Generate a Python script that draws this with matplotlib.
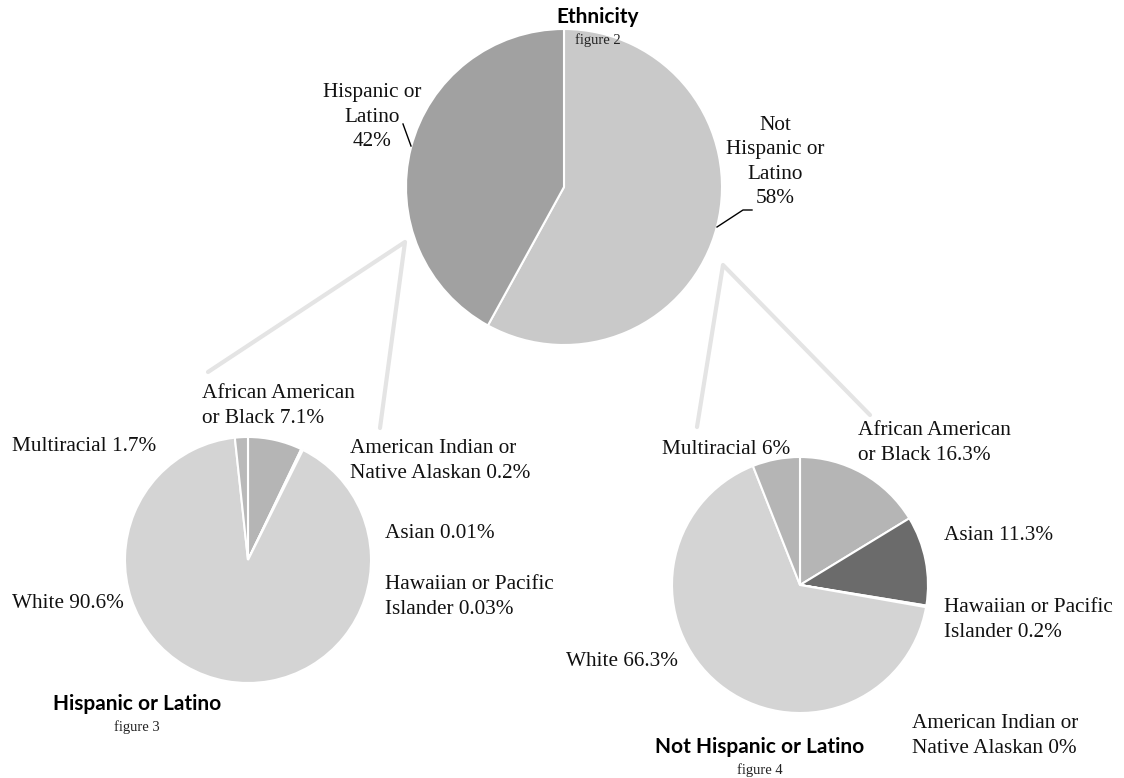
import matplotlib
matplotlib.use("Agg")
import matplotlib.pyplot as plt

# ---- data ----
eth_labels = ["Not Hispanic or Latino", "Hispanic or Latino"]
eth_values = [58, 42]
eth_colors = ["#c9c9c9", "#a1a1a1"]

hisp_labels = ["African American or Black", "American Indian or Native Alaskan", "Asian",
               "Hawaiian or Pacific Islander", "White", "Multiracial"]
hisp_values = [7.1, 0.2, 0.01, 0.03, 90.6, 1.7]
hisp_colors = ["#b5b5b5", "#e6e6e6", "#bdbdbd", "#a0a0a0", "#d4d4d4", "#b9b9b9"]

nonh_labels = ["African American or Black", "Asian", "Hawaiian or Pacific Islander",
               "American Indian or Native Alaskan", "White", "Multiracial"]
nonh_values = [16.3, 11.3, 0.2, 0.0, 66.3, 6.0]
nonh_colors = ["#b5b5b5", "#6b6b6b", "#9a9a9a", "#888888", "#d4d4d4", "#b5b5b5"]

W, H = 1124, 778
fig = plt.figure(figsize=(W / 100, H / 100), dpi=100)
ax = fig.add_axes([0, 0, 1, 1])

SERIF = ["Liberation Serif", "DejaVu Serif"]
SANS = ["Lato", "Open Sans", "DejaVu Sans"]
FS = 15.3

def draw_pie(values, colors, center, radius):
    ax.pie(values, colors=colors, center=center, radius=radius,
           startangle=-90, counterclock=True,
           wedgeprops=dict(edgecolor="white", linewidth=1.5))

draw_pie(eth_values, eth_colors, (564, 187), 158)
draw_pie(hisp_values, hisp_colors, (248, 560), 123)
draw_pie(nonh_values, nonh_colors, (800, 585), 128)

ax.set_xlim(0, W)
ax.set_ylim(H, 0)
ax.set_aspect("auto")
ax.axis("off")

# connector lines (zoom)
conn = dict(color="#e4e4e4", lw=3.0, solid_capstyle="round", solid_joinstyle="round", zorder=0)
ax.plot([208, 405, 380], [372, 242, 428], **conn)
ax.plot([697, 723, 870], [427, 265, 415], **conn)

# leader lines
ax.plot([403, 411], [124, 146], color="black", lw=1)
ax.plot([717, 743, 752], [227, 210, 210], color="black", lw=1)

def lab(x, y, s, ha="left", ma=None):
    ax.text(x, y, s, ha=ha, va="center", fontsize=FS, family=SERIF,
            multialignment=ma or ha, linespacing=1.38, color="#111111")

# titles
def title(x, y, s, sub):
    ax.text(x, y, s, ha="center", va="center", fontsize=15, family=SANS,
            fontweight="bold", color="black")
    ax.text(x, y + 23, sub, ha="center", va="center", fontsize=10.5, family=SERIF,
            color="#222222")

title(598, 17, "Ethnicity", "figure 2")
title(137, 704, "Hispanic or Latino", "figure 3")
title(760, 747, "Not Hispanic or Latino", "figure 4")

# top pie labels
lab(372, 117, "Hispanic or\nLatino\n42%", ha="center")
lab(775, 162, "Not\nHispanic or\nLatino\n58%", ha="center")

# left pie labels
lab(202, 406, "African American\nor Black 7.1%")
lab(12, 446, "Multiracial 1.7%")
lab(350, 461, "American Indian or\nNative Alaskan 0.2%")
lab(385, 534, "Asian 0.01%")
lab(385, 597, "Hawaiian or Pacific\nIslander 0.03%")
lab(12, 603, "White 90.6%")

# right pie labels
lab(662, 449, "Multiracial 6%")
lab(858, 443, "African American\nor Black 16.3%")
lab(944, 535, "Asian 11.3%")
lab(944, 620, "Hawaiian or Pacific\nIslander 0.2%")
lab(566, 661, "White 66.3%")
lab(912, 736, "American Indian or\nNative Alaskan 0%")

fig.savefig("out.png", dpi=100, facecolor="white")
